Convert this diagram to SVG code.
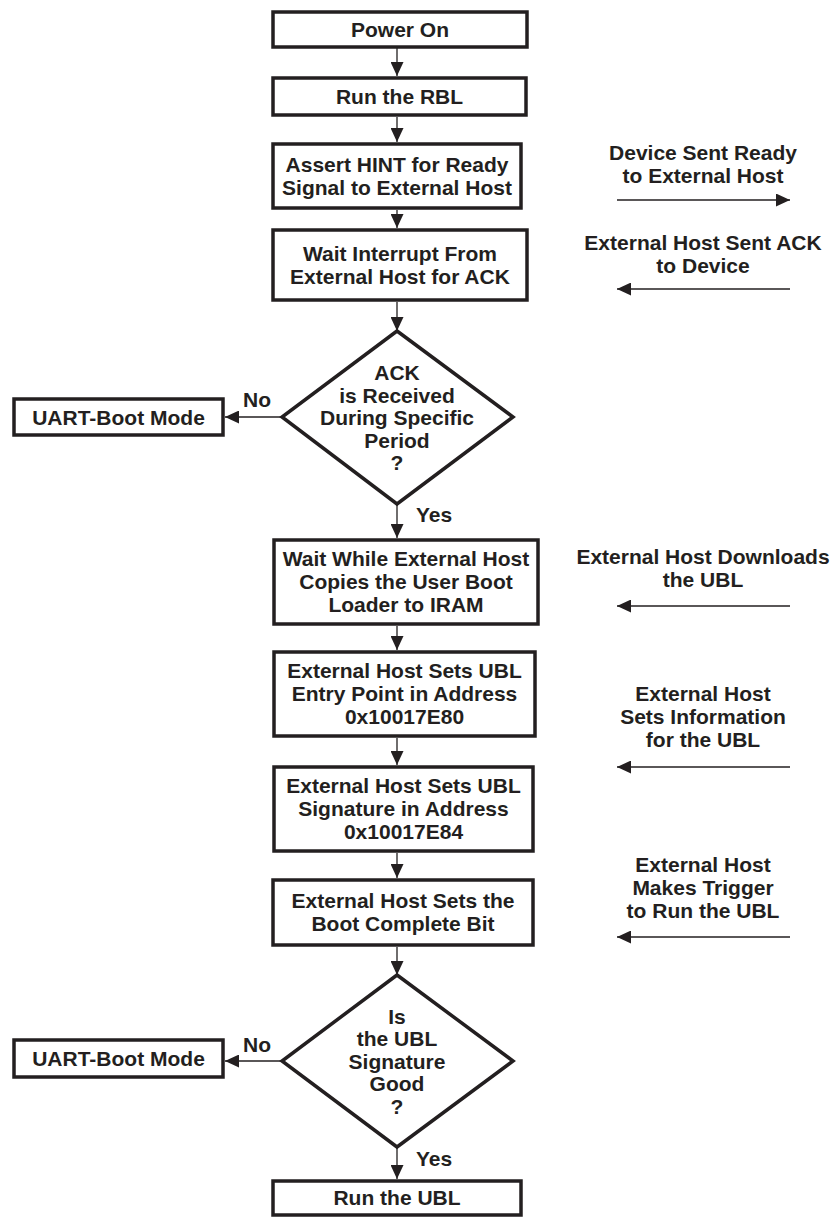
<svg xmlns="http://www.w3.org/2000/svg" width="835" height="1220" viewBox="0 0 835 1220">
<style>
.box{fill:#fff;stroke:#231f20;stroke-width:3.5}
.con{fill:none;stroke:#231f20;stroke-width:1.3}
text{font-family:"Liberation Sans",Arial,sans-serif;font-weight:bold;font-size:21px;fill:#231f20;text-anchor:middle}
.lab{text-anchor:start}
</style>
<defs>
<marker id="ah" markerUnits="userSpaceOnUse" markerWidth="14" markerHeight="13" refX="14" refY="6.5" orient="auto">
<path d="M0,0 L14,6.5 L0,13 z" fill="#231f20"/>
</marker>
</defs>
<rect width="835" height="1220" fill="#fff"/>
<g id="connectors">
<line class="con" x1="397" y1="48" x2="397" y2="76" marker-end="url(#ah)"/>
<line class="con" x1="397" y1="117" x2="397" y2="142" marker-end="url(#ah)"/>
<line class="con" x1="397" y1="210" x2="397" y2="228" marker-end="url(#ah)"/>
<line class="con" x1="397" y1="302" x2="397" y2="331" marker-end="url(#ah)"/>
<line class="con" x1="397" y1="504" x2="397" y2="538" marker-end="url(#ah)"/>
<line class="con" x1="397" y1="626" x2="397" y2="650" marker-end="url(#ah)"/>
<line class="con" x1="397" y1="738" x2="397" y2="765" marker-end="url(#ah)"/>
<line class="con" x1="397" y1="853" x2="397" y2="878" marker-end="url(#ah)"/>
<line class="con" x1="397" y1="947" x2="397" y2="975" marker-end="url(#ah)"/>
<line class="con" x1="397" y1="1147" x2="397" y2="1179" marker-end="url(#ah)"/>
<line class="con" x1="282" y1="417" x2="225" y2="417" marker-end="url(#ah)"/>
<line class="con" x1="282" y1="1061" x2="225" y2="1061" marker-end="url(#ah)"/>
<text x="257" y="407">No</text>
<text x="257" y="1052">No</text>
<text class="lab" x="416" y="522">Yes</text>
<text class="lab" x="416" y="1166">Yes</text>
<line class="con" x1="617" y1="200" x2="790" y2="200" marker-end="url(#ah)"/>
<line class="con" x1="790" y1="289" x2="617" y2="289" marker-end="url(#ah)"/>
<line class="con" x1="790" y1="606" x2="617" y2="606" marker-end="url(#ah)"/>
<line class="con" x1="790" y1="767" x2="617" y2="767" marker-end="url(#ah)"/>
<line class="con" x1="790" y1="937" x2="617" y2="937" marker-end="url(#ah)"/>
</g>
<g id="power-on"><rect class="box" x="273" y="12" width="254" height="35"/><text x="400" y="36.5">Power On</text></g>
<g id="run-rbl"><rect class="box" x="273" y="78" width="253" height="37"/><text x="399.5" y="104">Run the RBL</text></g>
<g id="assert-hint"><rect class="box" x="273" y="144" width="248" height="64"/><text x="397" y="172">Assert HINT for Ready</text><text x="397" y="195">Signal to External Host</text></g>
<g id="wait-interrupt"><rect class="box" x="273" y="230" width="254" height="70"/><text x="400" y="261">Wait Interrupt From</text><text x="400" y="284">External Host for ACK</text></g>
<g id="ack-decision"><polygon class="box" points="397,331 513,417 397,504 282,417"/><text x="397" y="380">ACK</text><text x="397" y="402.5">is Received</text><text x="397" y="425">During Specific</text><text x="397" y="447.5">Period</text><text x="397" y="470">?</text></g>
<g id="uart-boot-1"><rect class="box" x="14" y="399" width="209" height="36"/><text x="118.5" y="424.5">UART-Boot Mode</text></g>
<g id="wait-copy"><rect class="box" x="274" y="540" width="264" height="84"/><text x="406" y="566">Wait While External Host</text><text x="406" y="589">Copies the User Boot</text><text x="406" y="612">Loader to IRAM</text></g>
<g id="set-entry"><rect class="box" x="274" y="652" width="261" height="84"/><text x="404.5" y="678">External Host Sets UBL</text><text x="404.5" y="701">Entry Point in Address</text><text x="404.5" y="724">0x10017E80</text></g>
<g id="set-signature"><rect class="box" x="274" y="767" width="259" height="84"/><text x="403.5" y="793">External Host Sets UBL</text><text x="403.5" y="816">Signature in Address</text><text x="403.5" y="839">0x10017E84</text></g>
<g id="boot-complete"><rect class="box" x="273" y="880" width="260" height="65"/><text x="403" y="908">External Host Sets the</text><text x="403" y="931">Boot Complete Bit</text></g>
<g id="signature-decision"><polygon class="box" points="397,975 513,1061 397,1147 282,1061"/><text x="397" y="1023.5">Is</text><text x="397" y="1046">the UBL</text><text x="397" y="1068.5">Signature</text><text x="397" y="1091">Good</text><text x="397" y="1113.5">?</text></g>
<g id="uart-boot-2"><rect class="box" x="14" y="1040" width="209" height="37"/><text x="118.5" y="1066">UART-Boot Mode</text></g>
<g id="run-ubl"><rect class="box" x="273" y="1181" width="248" height="34"/><text x="397" y="1205">Run the UBL</text></g>
<g id="note-ready"><text x="703" y="160">Device Sent Ready</text><text x="703" y="183">to External Host</text></g>
<g id="note-ack"><text x="703" y="250">External Host Sent ACK</text><text x="703" y="273">to Device</text></g>
<g id="note-download"><text x="703" y="564">External Host Downloads</text><text x="703" y="587">the UBL</text></g>
<g id="note-info"><text x="703" y="701">External Host</text><text x="703" y="724">Sets Information</text><text x="703" y="747">for the UBL</text></g>
<g id="note-trigger"><text x="703" y="872">External Host</text><text x="703" y="895">Makes Trigger</text><text x="703" y="918">to Run the UBL</text></g>
</svg>
